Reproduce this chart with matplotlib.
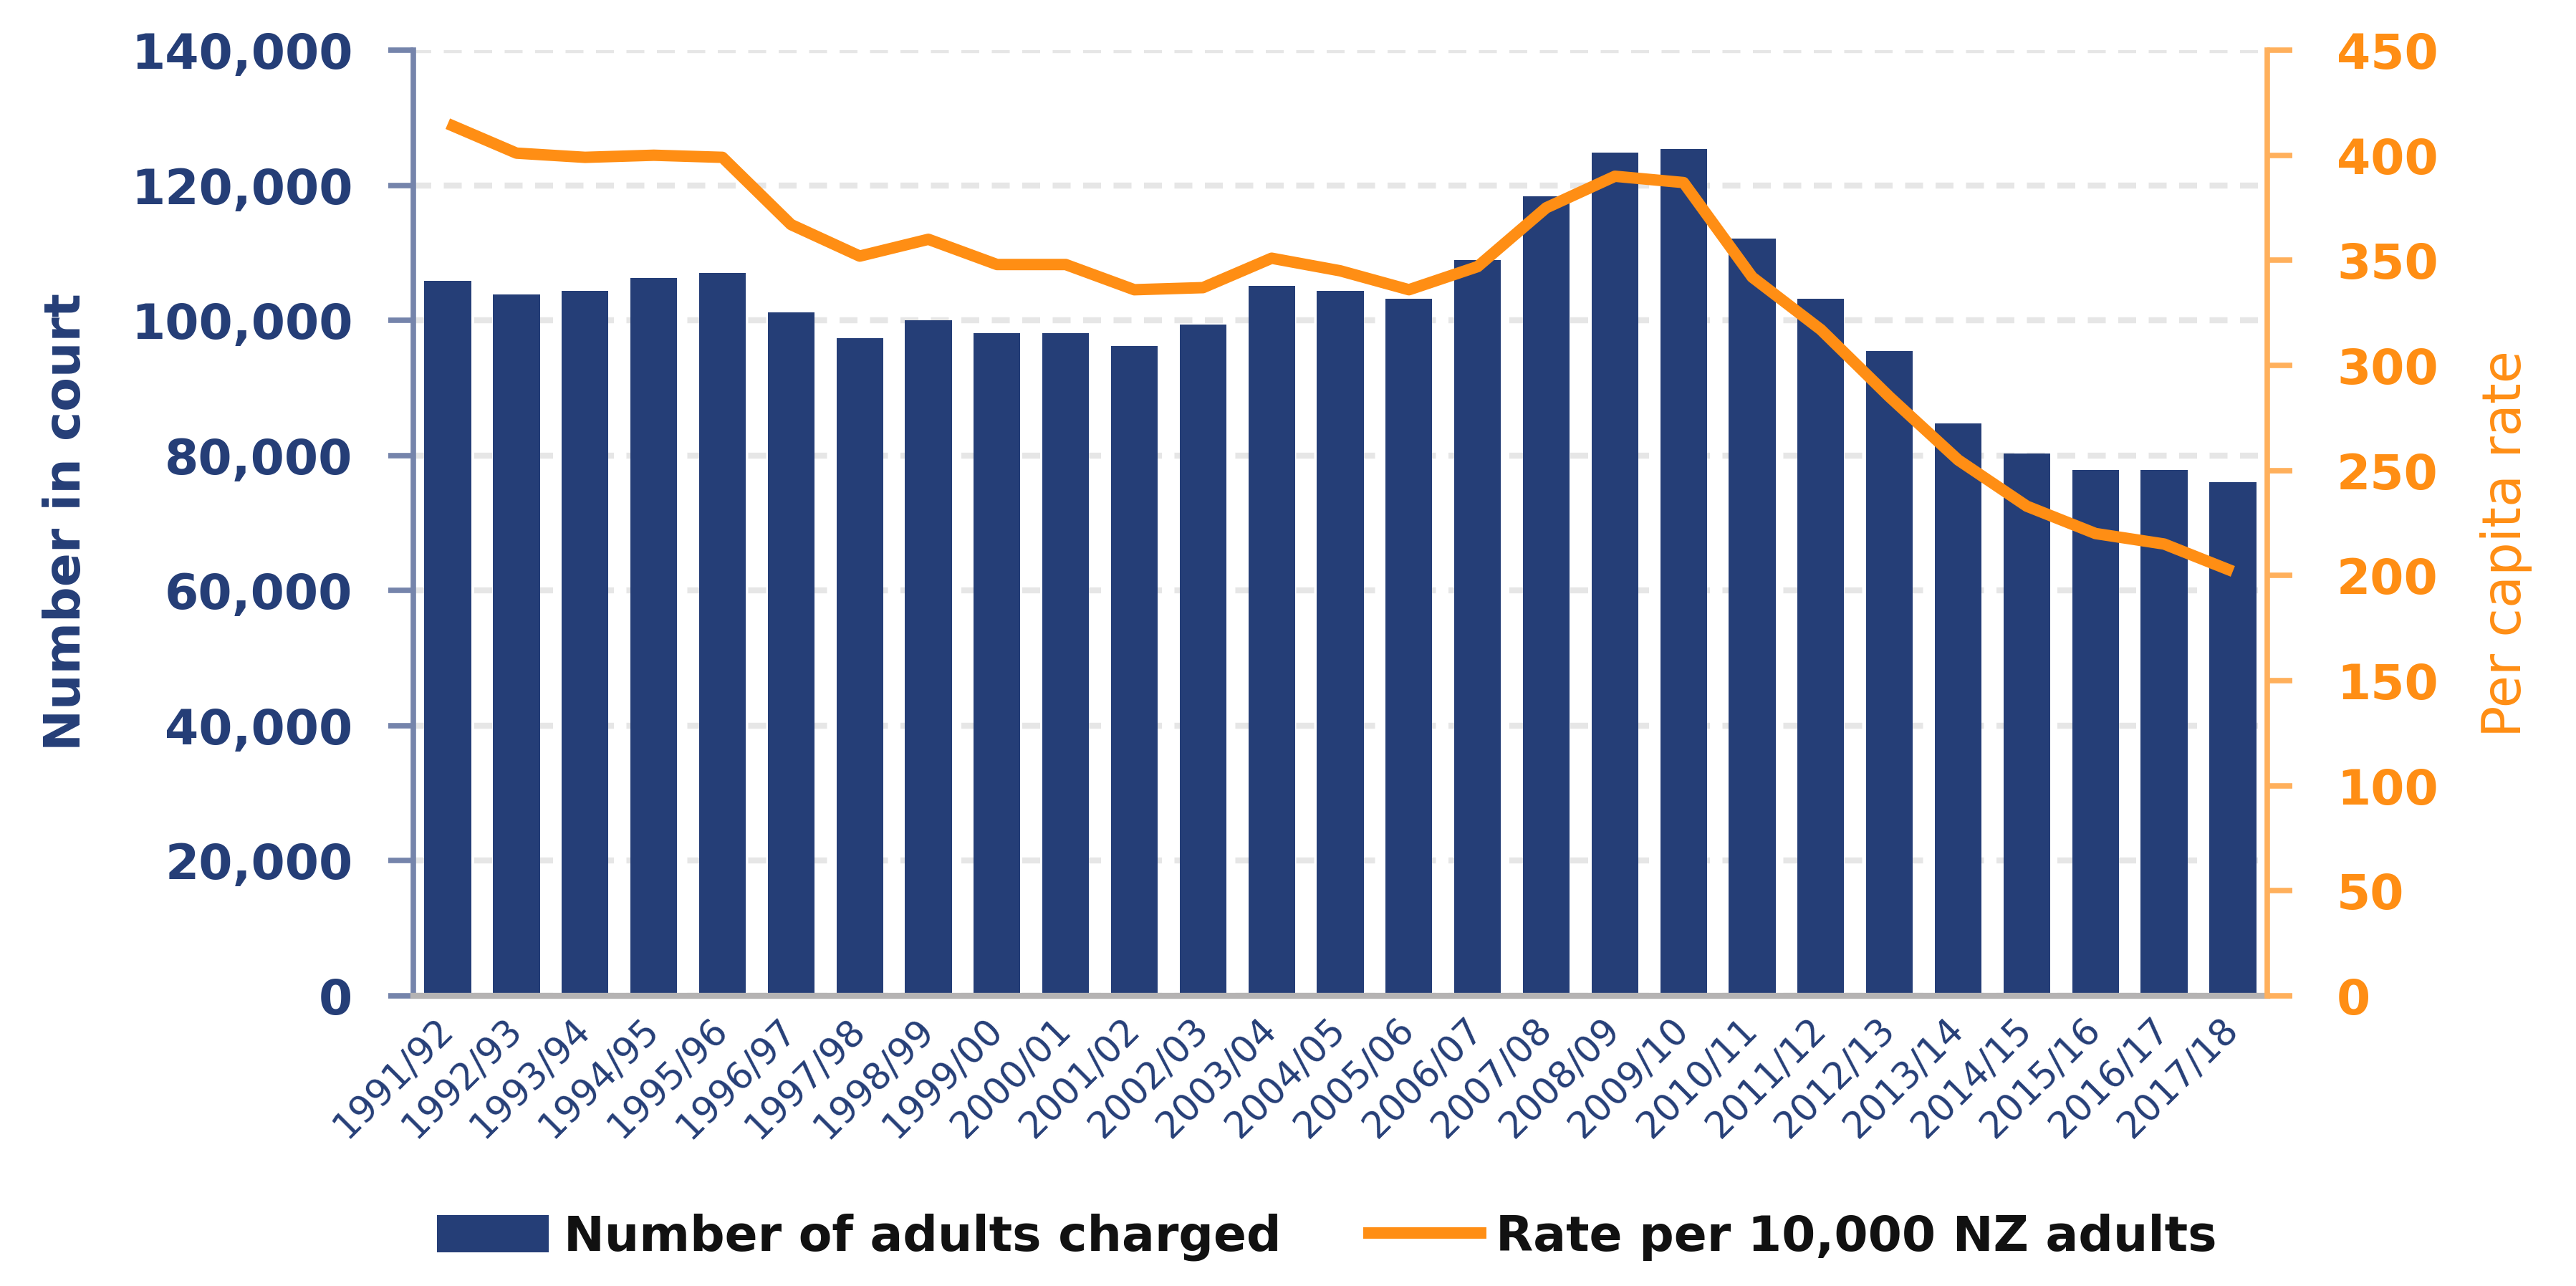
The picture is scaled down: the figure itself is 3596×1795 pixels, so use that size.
import matplotlib
matplotlib.use('Agg')
import matplotlib.pyplot as plt
from matplotlib.ticker import FuncFormatter, MultipleLocator
from matplotlib.patches import Patch
from matplotlib.lines import Line2D

years = ['1991/92', '1992/93', '1993/94', '1994/95', '1995/96', '1996/97', '1997/98',
         '1998/99', '1999/00', '2000/01', '2001/02', '2002/03', '2003/04', '2004/05',
         '2005/06', '2006/07', '2007/08', '2008/09', '2009/10', '2010/11', '2011/12',
         '2012/13', '2013/14', '2014/15', '2015/16', '2016/17', '2017/18']
adults_charged = [105800, 103800, 104400, 106300, 107000, 101200, 97400,
                  100000, 98100, 98100, 96200, 99400, 105100, 104400,
                  103200, 108900, 118400, 124800, 125400, 112100, 103200,
                  95500, 84700, 80300, 77900, 77900, 76000]
rate_per_10000 = [415, 401, 399, 400, 399, 367, 352,
                  360, 348, 348, 336, 337, 351, 345,
                  336, 347, 375, 390, 387, 342, 317,
                  285, 255, 233, 220, 215, 202]

bar_label = 'Number of adults charged'
line_label = 'Rate per 10,000 NZ adults'
left_title = 'Number in court'
right_title = 'Per capita rate'

NAVY = '#253E77'
ORANGE = '#FF8E14'
NAVY_AXIS = '#7584AB'
ORANGE_AXIS = '#FFB05C'

fig = plt.figure(figsize=(35.96, 17.95), dpi=100)
ax = fig.add_axes([0.1605, 0.2256, 0.7196, 0.7354])
x = list(range(len(years)))

ax.bar(x, adults_charged, width=0.68, color=NAVY, zorder=2)
ax.set_xlim(-0.5, len(years) - 0.5)
ax.set_ylim(0, 140000)
ax.yaxis.set_major_locator(MultipleLocator(20000))
ax.yaxis.set_major_formatter(FuncFormatter(lambda v, p: f'{int(v):,}'))
ax.set_axisbelow(True)
ax.grid(axis='y', color='#E6E6E6', linewidth=6, linestyle=(0, (3.0, 2.1)))
ax.grid(axis='x', visible=False)

ax.set_xticks(x)
ax.set_xticklabels(years, rotation=45, ha='right', va='center',
                   rotation_mode='anchor', fontsize=37, color=NAVY)
ax.tick_params(axis='x', length=0, pad=29)
ax.tick_params(axis='y', direction='out', length=25, width=5.5, color=NAVY_AXIS,
               labelsize=49, labelcolor=NAVY, pad=36)
for lab in ax.get_yticklabels():
    lab.set_fontweight('bold')

for s in ['top', 'right']:
    ax.spines[s].set_visible(False)
ax.spines['left'].set_color(NAVY_AXIS)
ax.spines['left'].set_linewidth(5.5)
ax.spines['bottom'].set_color('#B5B3B3')
ax.spines['bottom'].set_linewidth(6)
ax.spines['bottom'].set_zorder(3)

ax2 = ax.twinx()
ax2.plot(x, rate_per_10000, color=ORANGE, linewidth=11.5,
         solid_joinstyle='round', solid_capstyle='butt', zorder=4)
ax2.set_ylim(0, 450)
ax2.yaxis.set_major_locator(MultipleLocator(50))
ax2.tick_params(axis='y', direction='out', length=25, width=5.5, color=ORANGE_AXIS,
                labelsize=49, labelcolor=ORANGE, pad=45)
for lab in ax2.get_yticklabels():
    lab.set_fontweight('bold')
for s in ['top', 'left', 'bottom']:
    ax2.spines[s].set_visible(False)
ax2.spines['right'].set_color(ORANGE_AXIS)
ax2.spines['right'].set_linewidth(5.5)

fig.text(0.0256, 0.594, left_title, rotation=90, ha='center', va='center',
         fontsize=50, fontweight='bold', color=NAVY)
fig.text(0.973, 0.577, right_title, rotation=90, ha='center', va='center',
         fontsize=53, color=ORANGE)

handles = [Patch(facecolor=NAVY, edgecolor='none'),
           Line2D([0], [0], color=ORANGE, linewidth=11.5)]
fig.legend(handles, [bar_label, line_label], loc='center',
           bbox_to_anchor=(0.515, 0.038), ncol=2, frameon=False,
           prop={'size': 49, 'weight': 'bold'}, labelcolor='#111111',
           handlelength=2.3, handleheight=0.8, handletextpad=0.3,
           columnspacing=1.8)

fig.savefig('out.png', dpi=100)
